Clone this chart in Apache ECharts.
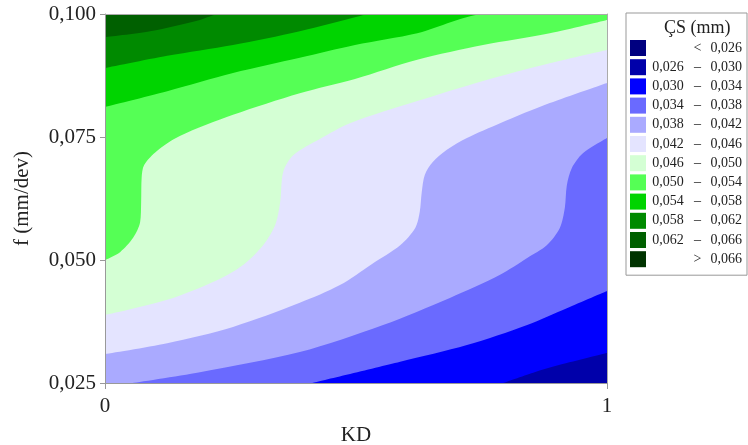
<!DOCTYPE html>
<html>
<head>
<meta charset="utf-8">
<script src="https://cdn.jsdelivr.net/npm/echarts@6/dist/echarts.min.js"></script>
<style>
html,body{margin:0;padding:0;background:#fff;}
#chart{width:748px;height:445px;}
</style>
</head>
<body>
<div id="chart"></div>
<script>
// ---- data ----
const xTicks = [0, 1];
const xTickLabels = ['0', '1'];
const yTicks = [0.025, 0.05, 0.075, 0.1];
const yTickLabels = ['0,025', '0,050', '0,075', '0,100'];

const bandNames = ['< 0,026', '0,026 – 0,030', '0,030 – 0,034', '0,034 – 0,038', '0,038 – 0,042',
  '0,042 – 0,046', '0,046 – 0,050', '0,050 – 0,054', '0,054 – 0,058', '0,058 – 0,062',
  '0,062 – 0,066', '> 0,066'];
const bandColors = ['#000080', '#0000AA', '#0000FF', '#6A6AFF', '#AAAAFF',
  '#E4E4FF', '#D4FFD4', '#55FF55', '#00D400', '#008A00', '#006000', '#003300'];

// contour lines [KD, f] : upper edge of each band's region
const edge030 = [[0.793,0.0250],[0.853,0.0271],[0.906,0.0287],[1,0.0311]];
const edge034 = [[0.414,0.0250],[0.588,0.0293],[0.721,0.0327],[0.841,0.0368],[0.920,0.0402],[1,0.0437]];
const edge038 = [[0.054,0.0250],[0.189,0.0272],[0.388,0.0313],[0.554,0.0368],[0.687,0.0423],[0.787,0.0470],
  [0.841,0.0504],[0.880,0.0530],[0.906,0.0565],[0.916,0.0606],[0.920,0.0652],[0.930,0.0687],[0.952,0.0717],[1,0.0748]];
const edge042 = [[0,0.0309],[0.124,0.0331],[0.255,0.0364],[0.388,0.0413],[0.468,0.0449],[0.532,0.0492],
  [0.588,0.0530],[0.618,0.0565],[0.627,0.0598],[0.631,0.0638],[0.637,0.0673],[0.653,0.0699],[0.681,0.0724],
  [0.721,0.0748],[0.787,0.0778],[0.886,0.0819],[1,0.0860]];
const edge046 = [[0,0.0388],[0.124,0.0419],[0.223,0.0459],[0.275,0.0490],[0.315,0.0530],[0.339,0.0571],
  [0.349,0.0618],[0.355,0.0679],[0.375,0.0713],[0.428,0.0746],[0.488,0.0778],[0.622,0.0823],[0.753,0.0864],
  [0.886,0.0900],[1,0.0927]];
const edge050 = [[0,0.0500],[0.030,0.0516],[0.056,0.0545],[0.070,0.0577],[0.072,0.0618],[0.073,0.0667],
  [0.078,0.0693],[0.104,0.0722],[0.149,0.0752],[0.255,0.0795],[0.388,0.0839],[0.498,0.0868],[0.622,0.0907],
  [0.753,0.0937],[0.886,0.0961],[1,0.0988]];
const edge054 = [[0,0.0811],[0.124,0.0843],[0.255,0.0880],[0.388,0.0911],[0.498,0.0937],[0.622,0.0961],[0.761,0.1000],[1,0.1000]];
const edge058 = [[0,0.0890],[0.124,0.0915],[0.255,0.0937],[0.388,0.0965],[0.508,0.0996],[0.528,0.1000],[1,0.1000]];
const edge062 = [[0,0.0953],[0.090,0.0965],[0.189,0.0988],[0.229,0.1000],[1,0.1000]];
const edge066 = [[0,0.1000],[1,0.1000]];

const bandEdges = [[], edge030, edge034, edge038, edge042, edge046, edge050, edge054, edge058, edge062, edge066, []];

// ---- chart ----
const FONT = '"Liberation Serif", "Times New Roman", serif';
const TXT = '#222';

const series = [];
for (let i = bandNames.length - 1; i >= 0; i--) {
  const c = bandColors[i];
  series.push({
    name: bandNames[i],
    type: 'line',
    data: bandEdges[i],
    smooth: 0.3,
    symbol: 'none',
    showSymbol: false,
    silent: true,
    animation: false,
    clip: true,
    itemStyle: { color: c },
    lineStyle: { width: 0, color: c },
    areaStyle: { color: c, opacity: 1, origin: 'start' }
  });
}

function legendFmt(name) {
  if (name[0] === '<' || name[0] === '>') {
    return '{a| }{b|' + name[0] + '}{c|' + name.slice(2) + '}';
  }
  const p = name.split(' – ');
  return '{a|' + p[0] + '}{b|–}{c|' + p[1] + '}';
}

const chart = echarts.init(document.getElementById('chart'), null, { renderer: 'canvas' });
chart.setOption({
  animation: false,
  backgroundColor: '#fff',
  title: {
    text: 'ÇS (mm)', left: 664, top: 19, padding: 0,
    textStyle: { fontFamily: FONT, fontSize: 18, fontWeight: 'normal', color: TXT }
  },
  legend: {
    orient: 'vertical', left: 626, top: 13, padding: [27, 5, 8, 4],
    itemWidth: 16, itemHeight: 16, itemGap: 3.2, icon: 'rect',
    itemStyle: { borderWidth: 0 },
    borderColor: '#999', borderWidth: 1,
    selectedMode: false,
    data: bandNames,
    formatter: legendFmt,
    textStyle: {
      fontFamily: FONT, fontSize: 14, color: TXT, lineHeight: 16,
      rich: {
        a: { width: 34, align: 'right', fontFamily: FONT, fontSize: 14, color: TXT, lineHeight: 16 },
        b: { width: 25, align: 'center', fontFamily: FONT, fontSize: 14, color: TXT, lineHeight: 16 },
        c: { width: 32, align: 'right', fontFamily: FONT, fontSize: 14, color: TXT, lineHeight: 16 }
      }
    }
  },
  grid: { left: 105, right: 141, top: 14, bottom: 62, show: false, containLabel: false, outerBoundsMode: 'none' },
  xAxis: [{
    type: 'value', min: xTicks[0], max: xTicks[xTicks.length - 1], interval: 1, z: 10,
    name: 'KD', nameLocation: 'middle', nameGap: 42,
    nameTextStyle: { fontFamily: FONT, fontSize: 21, color: TXT },
    axisLine: { show: true, lineStyle: { color: '#999', width: 1 } },
    axisTick: { show: true, length: 6, lineStyle: { color: '#999' } },
    axisLabel: { margin: 13, fontFamily: FONT, fontSize: 21, color: TXT,
      formatter: v => xTickLabels[xTicks.indexOf(Math.round(v))] },
    splitLine: { show: false }
  }, {
    type: 'value', position: 'top', min: 0, max: 1, z: 10,
    axisLine: { show: true, onZero: false, lineStyle: { color: '#aaa', width: 1 } },
    axisTick: { show: false }, axisLabel: { show: false }, splitLine: { show: false }
  }],
  yAxis: [{
    type: 'value', min: yTicks[0], max: yTicks[yTicks.length - 1], interval: 0.025, z: 10,
    name: 'f (mm/dev)', nameLocation: 'middle', nameGap: 72, nameRotate: 90,
    nameTextStyle: { fontFamily: FONT, fontSize: 21, color: TXT },
    axisLine: { show: true, lineStyle: { color: '#999', width: 1 } },
    axisTick: { show: true, length: 5, lineStyle: { color: '#999' } },
    axisLabel: { margin: 9, fontFamily: FONT, fontSize: 21, color: TXT,
      formatter: v => yTickLabels[Math.round((v - yTicks[0]) / 0.025)] },
    splitLine: { show: false }
  }, {
    type: 'value', position: 'right', min: 0.025, max: 0.1, z: 10,
    axisLine: { show: true, onZero: false, lineStyle: { color: '#aaa', width: 1 } },
    axisTick: { show: false }, axisLabel: { show: false }, splitLine: { show: false }
  }],
  series: series
});
</script>
</body>
</html>
